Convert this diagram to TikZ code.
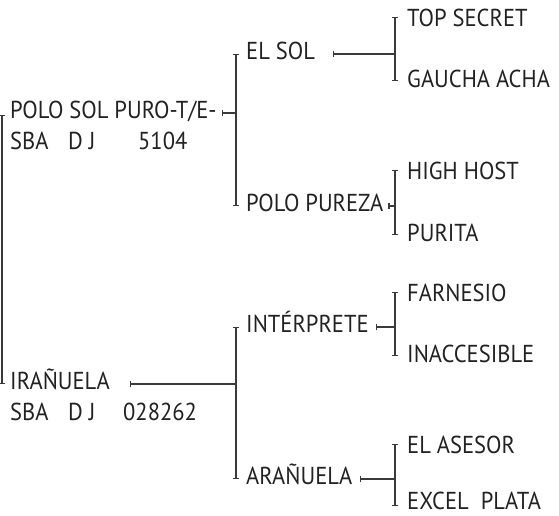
\documentclass[tikz,border=0pt]{standalone}
\usepackage{fontspec}
\setmainfont{PT Sans}[FakeStretch=0.92]
\usetikzlibrary{arrows.meta,positioning}

\definecolor{inkgray}{HTML}{222222}
\definecolor{linegray}{HTML}{3A3A3A}

\tikzset{
  horse/.style={anchor=west, inner sep=0pt, text height=17pt, text depth=6pt,
    text=inkgray, font=\fontsize{24.5}{29}\selectfont},
  pedline/.style={draw=linegray, line width=1.2pt},
  pedtick/.tip={Bar[width=6.5pt, line width=1.2pt]}
}

\begin{document}
\begin{tikzpicture}[x=1pt, y=-1pt]
    \useasboundingbox (0,0) rectangle (559,516); % page size of the reference

    % first generation
    \node [horse] (polo) at (10,113) {POLO SOL PURO-T/E-}; % sire
    \node [horse, below=31pt of polo.west, anchor=west] (poloreg) {\makebox[58pt][l]{SBA}\makebox[70pt][l]{D J}5104};
    \node [horse] (iranuela) at (10,384) {IRAÑUELA}; % dam
    \node [horse, below=31pt of iranuela.west, anchor=west] (iranreg) {\makebox[58pt][l]{SBA}\makebox[55pt][l]{D J}028262};

    % second generation
    \node [horse] (elsol) at (246,54) {EL SOL};
    \node [horse] (pureza) at (246,206) {POLO PUREZA};
    \node [horse] (interprete) at (246,327) {INTÉRPRETE};
    \node [horse] (aranuela) at (246,479) {ARAÑUELA};

    % third generation
    \node [horse] (topsecret) at (407,21) {TOP SECRET};
    \node [horse] (gaucha) at (407,82) {GAUCHA ACHA};
    \node [horse] (highhost) at (407,174) {HIGH HOST};
    \node [horse] (purita) at (407,236) {PURITA};
    \node [horse] (farnesio) at (407,296) {FARNESIO};
    \node [horse] (inacc) at (407,357) {INACCESIBLE};
    \node [horse] (asesor) at (407,448) {EL ASESOR};
    \node [horse] (excel) at (407,504) {EXCEL\ \ PLATA};

    % x of the brackets
    \coordinate (bar0) at ([xshift=-8pt]polo.west);
    \coordinate (bar1) at ([xshift=-10pt]elsol.west);
    \coordinate (bar2) at ([xshift=-12pt]topsecret.west);

    % brackets
    \draw [pedline, pedtick-pedtick] ([yshift=-2pt]bar0 |- polo.west) -- (bar0 |- iranuela.west); % sire to dam
    \draw [pedline, pedtick-pedtick] (bar1 |- elsol.west) -- (bar1 |- pureza.west);
    \draw [pedline, pedtick-pedtick] (bar1 |- interprete.west) -- (bar1 |- aranuela.west);
    \draw [pedline, pedtick-pedtick] ([yshift=4pt]bar2 |- topsecret.west) -- ([yshift=1pt]bar2 |- gaucha.west);
    \draw [pedline, pedtick-pedtick] ([yshift=4pt]bar2 |- highhost.west) -- ([yshift=1pt]bar2 |- purita.west);
    \draw [pedline, pedtick-pedtick] ([yshift=4pt]bar2 |- farnesio.west) -- ([yshift=1pt]bar2 |- inacc.west);
    \draw [pedline, pedtick-pedtick] ([yshift=4pt]bar2 |- asesor.west) -- ([yshift=-2pt]bar2 |- excel.west);

    % links into the brackets
    \draw [pedline, pedtick-] ([xshift=5pt]polo.east) -- (bar1 |- polo.east);
    \draw [pedline, pedtick-] ([xshift=20pt]iranuela.east) -- (bar1 |- iranuela.east);
    \draw [pedline, pedtick-] ([xshift=18pt]elsol.east) -- (bar2 |- elsol.east);
    \draw [pedline, pedtick-] ([xshift=5pt]pureza.east) -- (bar2 |- pureza.east);
    \draw [pedline, pedtick-] ([xshift=7pt]interprete.east) -- (bar2 |- interprete.east);
    \draw [pedline, pedtick-] ([xshift=7pt]aranuela.east) -- (bar2 |- aranuela.east);
\end{tikzpicture}
\end{document}
